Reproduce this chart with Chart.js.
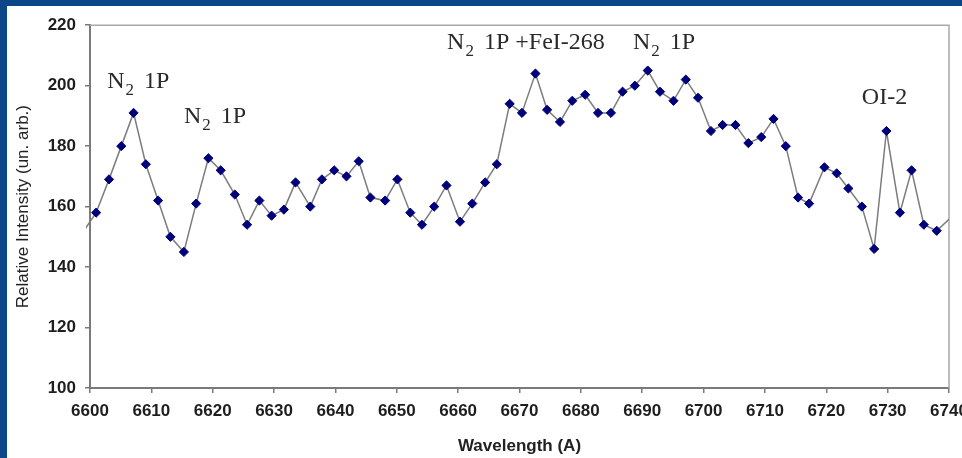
<!DOCTYPE html>
<html>
<head>
<meta charset="utf-8">
<script src="https://cdn.jsdelivr.net/npm/chart.js@4.4.1/dist/chart.umd.min.js"></script>
<style>
  html, body { margin: 0; padding: 0; background: #fff; overflow: hidden; }
  #frame { position: absolute; left: 0; top: 0; width: 962px; height: 458px;
           border-top: 6px solid #0a4688; border-left: 7px solid #0a4688; box-sizing: border-box; }
  #holder { position: absolute; left: 7px; top: 6px; }
</style>
</head>
<body>
<div id="frame"></div>
<div id="holder"><canvas id="myLine" width="975" height="452"></canvas></div>
<script>
const wavelengths = [
  6599.0, 6601.0, 6603.1, 6605.1, 6607.1, 6609.1, 6611.1, 6613.1, 6615.3, 6617.3,
  6619.3, 6621.3, 6623.6, 6625.6, 6627.6, 6629.6, 6631.6, 6633.5, 6635.9, 6637.8,
  6639.8, 6641.8, 6643.8, 6645.7, 6648.1, 6650.1, 6652.2, 6654.1, 6656.1, 6658.1,
  6660.3, 6662.3, 6664.4, 6666.3, 6668.4, 6670.4, 6672.6, 6674.5, 6676.6, 6678.6,
  6680.7, 6682.8, 6684.9, 6686.8, 6688.8, 6690.9, 6692.9, 6695.1, 6697.1, 6699.1,
  6701.2, 6703.1, 6705.2, 6707.3, 6709.4, 6711.4, 6713.4, 6715.4, 6717.2, 6719.7,
  6721.7, 6723.6, 6725.8, 6727.8, 6729.8, 6732.0, 6733.9, 6735.9, 6738.0, 6740.6
]
const intensity = [
  152, 158, 169, 180, 191, 174, 162, 150, 145, 161,
  176, 172, 164, 154, 162, 157, 159, 168, 160, 169,
  172, 170, 175, 163, 162, 169, 158, 154, 160, 167,
  155, 161, 168, 174, 194, 191, 204, 192, 188, 195,
  197, 191, 191, 198, 200, 205, 198, 195, 202, 196,
  185, 187, 187, 181, 183, 189, 180, 163, 161, 173,
  171, 166, 160, 146, 185, 158, 172, 154, 152, 157
]

const xTicks = [6600, 6610, 6620, 6630, 6640, 6650, 6660, 6670, 6680, 6690, 6700, 6710, 6720, 6730, 6740]
const yTicks = [100, 120, 140, 160, 180, 200, 220]

// line labels written over the peaks ("_2" = subscript)
const noteText = ['N_2 1P', 'N_2 1P', 'N_2 1P +FeI-268', 'N_2 1P', 'OI-2']
const noteX = [6602.8, 6615.3, 6658.2, 6688.5, 6725.8]
const noteY = [199.1, 187.6, 212.2, 212.2, 193.8]

const tickFont = {family: "'Liberation Sans', Arial, sans-serif", size: 17, weight: 'bold'}
const serif = "'Liberation Serif', 'Times New Roman', serif"

// grey frame on top and right of the plot area
const plotBorder = {
  id: 'plotBorder',
  beforeDatasetsDraw(chart) {
    let a = chart.chartArea
    let ctx = chart.ctx
    ctx.save()
    ctx.strokeStyle = '#a8a8a8'
    ctx.lineWidth = 1.5
    ctx.beginPath()
    ctx.moveTo(a.left, a.top)
    ctx.lineTo(a.right, a.top)
    ctx.lineTo(a.right, a.bottom)
    ctx.stroke()
    ctx.restore()
  }
}

const peakNotes = {
  id: 'peakNotes',
  afterDatasetsDraw(chart) {
    let ctx = chart.ctx
    let xs = chart.scales.x
    let ys = chart.scales.y
    ctx.save()
    ctx.fillStyle = '#2a2a2a'
    ctx.textBaseline = 'alphabetic'
    for (let i = 0; i < noteText.length; i++) {
      let px = xs.getPixelForValue(noteX[i])
      let py = ys.getPixelForValue(noteY[i])
      let t = noteText[i]
      let k = t.indexOf('_')
      let parts = k < 0 ? [t, '', ''] : [t.slice(0, k), t.charAt(k + 1), t.slice(k + 2)]
      ctx.font = '24px ' + serif
      ctx.fillText(parts[0], px, py)
      px += ctx.measureText(parts[0]).width
      if (parts[1]) {
        ctx.font = '17px ' + serif
        ctx.fillText(parts[1], px + 1, py + 7)
        px += ctx.measureText(parts[1]).width + 5
      }
      ctx.font = '24px ' + serif
      ctx.fillText(parts[2], px, py)
    }
    ctx.restore()
  }
}

function myLine() {
  let ctx = document.querySelector('#myLine').getContext('2d')
  let points = wavelengths.map((w, i) => ({x: w, y: intensity[i]}))
  let xMin = xTicks[0], xMax = xTicks[xTicks.length - 1]
  let myLineChart = new Chart(ctx, {
    type: 'line',
    data: {
      datasets: [{
        data: points,
        borderColor: '#7c7c7c',
        borderWidth: 1.5,
        pointStyle: 'rectRot',
        pointRadius: c => (c.raw && (c.raw.x < xMin || c.raw.x > xMax)) ? 0 : 4.6,
        pointBackgroundColor: '#00007a',
        pointBorderColor: '#00007a',
        pointBorderWidth: 1,
        tension: 0,
        clip: {left: 4, top: 0, right: 0, bottom: 0}
      }]
    },
    options: {
      responsive: false,
      animation: false,
      layout: {padding: {top: 15, right: 33, left: 0, bottom: 0}},
      plugins: {legend: {display: false}, tooltip: {enabled: false}},
      scales: {
        x: {
          type: 'linear',
          min: xMin,
          max: xMax,
          afterBuildTicks: s => { s.ticks = xTicks.map(v => ({value: v})) },
          afterFit: s => { s.height = 70 },
          grid: {drawOnChartArea: false, drawTicks: true, tickLength: 5, color: '#7a7a7a', lineWidth: 1.5},
          border: {display: true, color: '#7a7a7a', width: 2},
          ticks: {color: '#1e1e1e', font: tickFont, padding: 8, maxRotation: 0, callback: v => String(v)},
          title: {display: true, text: 'Wavelength (A)', color: '#222',
                  font: {family: "'Liberation Sans', Arial, sans-serif", size: 17, weight: 'bold'},
                  padding: {top: 0, bottom: 1}}
        },
        y: {
          type: 'linear',
          min: 100,
          max: 220,
          afterBuildTicks: s => { s.ticks = yTicks.map(v => ({value: v})) },
          afterFit: s => { s.width = 83 },
          grid: {drawOnChartArea: false, drawTicks: true, tickLength: 5, color: '#7a7a7a', lineWidth: 1.5},
          border: {display: true, color: '#7a7a7a', width: 2},
          ticks: {color: '#1e1e1e', font: tickFont, padding: 9, callback: v => String(v)},
          title: {display: true, text: 'Relative Intensity (un. arb.)', color: '#222',
                  font: {family: "'Liberation Sans', Arial, sans-serif", size: 17},
                  padding: {top: 6, bottom: 0}}
        }
      }
    },
    plugins: [plotBorder, peakNotes]
  })
}
myLine()
</script>
</body>
</html>
